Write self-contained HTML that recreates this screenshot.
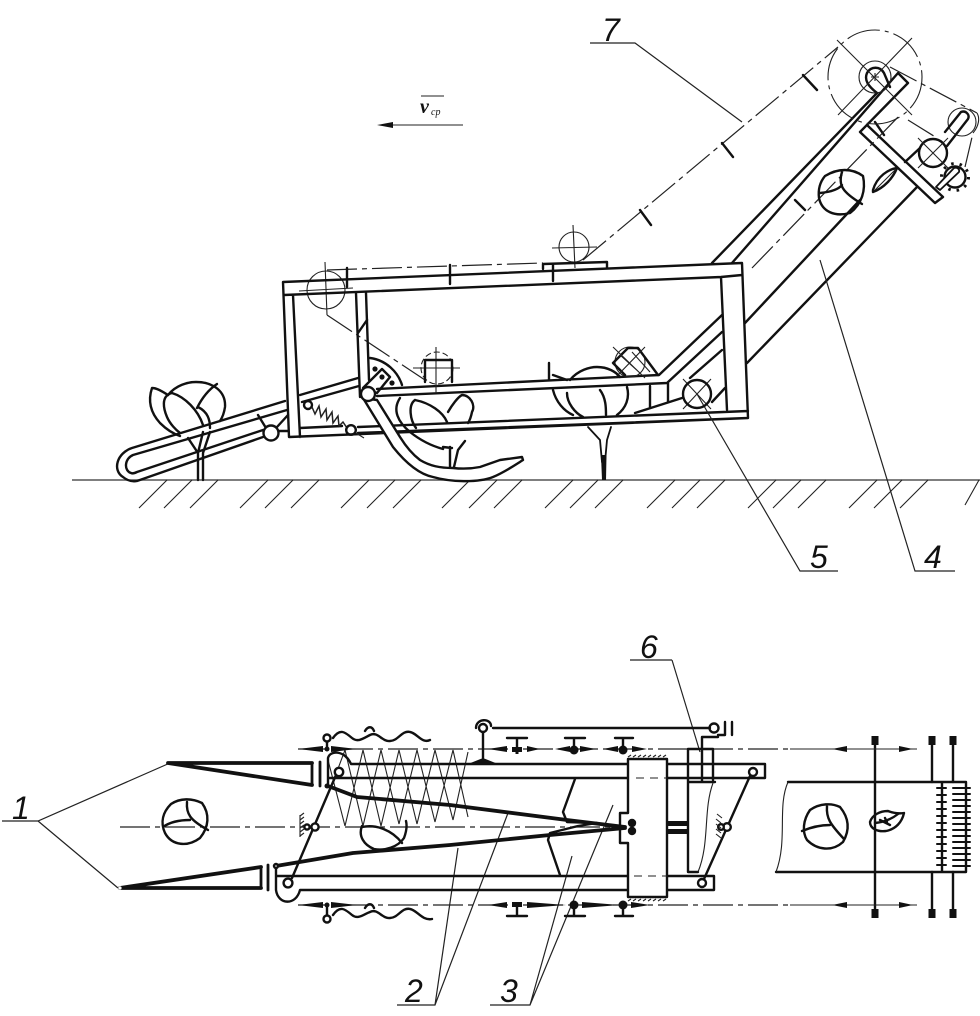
<!DOCTYPE html>
<html><head><meta charset="utf-8"><style>
html,body{margin:0;padding:0;background:#fff}
svg{display:block}
.m{fill:none;stroke:#111;stroke-width:2.4;stroke-linecap:round;stroke-linejoin:round}
.w{fill:#fff;stroke:#111;stroke-width:2.4;stroke-linejoin:round}
.t{fill:none;stroke:#222;stroke-width:1.1}
.h{fill:none;stroke:#111;stroke-width:3.8;stroke-linecap:round;stroke-linejoin:round}
.d{fill:none;stroke:#222;stroke-width:1.2;stroke-dasharray:30 5 5 5}
.g{fill:none;stroke:#222;stroke-width:1.1}
.n{font-family:"Liberation Sans",sans-serif;font-style:italic;font-size:32px;fill:#111}
</style></head><body>
<svg width="980" height="1016" viewBox="0 0 980 1016" xmlns="http://www.w3.org/2000/svg">
<rect width="980" height="1016" fill="#fff"/>

<!-- velocity -->
<text x="420" y="113" font-family="Liberation Serif,serif" font-style="italic" font-weight="bold" font-size="20" fill="#111">v</text>
<text x="431" y="115" font-family="Liberation Serif,serif" font-style="italic" font-size="10" fill="#111">ср</text>
<path class="t" d="M421 96H444"/>
<path class="t" d="M390 125H463"/><path d="M377 125L393 122V128Z" fill="#111"/>

<!-- ground -->
<path d="M72 480H980" stroke="#555" stroke-width="1.4" fill="none"/>
<path class="g" d="M167 480L139 508M192 480L164 508M218 480L190 508M268 480L240 508M293 480L265 508M319 480L291 508M369 480L341 508M395 480L367 508M421 480L393 508M470 480L442 508M497 480L469 508M522 480L494 508M573 480L545 508M598 480L570 508M623 480L595 508M675 480L647 508M700 480L672 508M725 480L697 508M776 480L748 508M801 480L773 508M826 480L798 508M877 480L849 508M902 480L874 508M928 480L900 508M979 480L965 505"/>

<!-- left cabbage -->
<path class="m" d="M168 395C160 390 156 388 152 388C148 400 150 412 160 423C168 431 174 434 180 436"/>
<path class="m" d="M168 395C176 385 188 382 196 382C214 382 226 392 225 407C224 414 222 418 220 421"/>
<path class="m" d="M172 393C160 396 164 410 167 417C170 424 176 430 180 433"/>
<path class="m" d="M172 393C185 397 198 410 203 425"/>
<path class="m" d="M197 408C202 398 208 390 217 384M198 407C208 412 210 420 210 428"/>
<path class="m" d="M188 438L198 453V480M203 480V453L210 432M203 432L198 453"/>
<!-- lifter -->
<path class="m" d="M285 401L132 448C117 453 112 470 123 477C128 481 132 482 137 481L263 437"/>
<path class="m" d="M287 410L133 455C124 459 124 471 131 473C133 474 135 473 137 472L263 430"/>
<path class="m" d="M300 395L358 378M302 402L359 386M258 415L266 428M277 427L288 415M278 431H288"/>
<circle cx="271" cy="433" r="7.5" class="w"/>

<!-- upper-left pulley -->
<circle cx="326" cy="290" r="19" class="t" stroke-width="1.2"/>
<path class="t" d="M325 262L327 315M299 291L353 288"/>
<path class="d" d="M327 270L543 263M327 315L425 380"/>
<path class="m" d="M347 268V287M450 265V284M553 265V281M358 333L367 320"/>

<!-- middle cabbage (below frame) -->
<path class="m" d="M400 398C392 410 398 422 410 432C420 440 432 446 443 449M415 400C408 405 410 420 416 428M415 400C430 403 443 412 447 422M448 412C452 405 458 397 462 395C470 395 476 405 472 412C471 417 470 420 468 423M450 467V447M454 467L458 450L465 441M452 448L443 447"/>

<!-- frame -->
<path class="m" d="M283 282L742 263L748 418L289 437L283 282ZM284 295L721 277L742 275M293 295L300 437M721 277L727 410M300 428L342 426M358 427L748 411M358 433L748 418"/>
<path class="m" d="M356 293L360 397M366 293L369 380"/>

<!-- belt top pulley -->
<circle cx="574" cy="247" r="15" class="t"/><path class="t" d="M552 248L597 247M573 225L575 268"/>
<path class="m" d="M543 269V264L607 262V268"/>
<path class="d" d="M583 260L838 47"/>
<path class="m" d="M722 143L733 157M640 210L651 225M803 75L817 90"/>

<path class="m" d="M377 389L659 375L722 315M377 396L667 383L722 332M690 378L722 350"/>
<path class="m" d="M668 383V402M650 386V408M635 413L682 398M712 402L725 388"/>
<!-- square roller -->
<circle cx="437" cy="368" r="16" class="t" stroke-dasharray="6 3"/>
<path class="t" d="M436 347V393M413 368H460"/>
<path class="m" d="M425 382V360H452V382"/>
<circle cx="630" cy="362" r="15" class="t"/>
<path class="m" d="M625 375L613 363L628 348L638 348L658 375"/>
<path class="t" d="M613 347L645 378M645 347L615 378M620 355L640 373M632 352L650 372"/>
<!-- third cabbage -->
<path class="m" d="M570 380C578 370 590 367 597 367C608 367 616 372 620 377M553 375L567 380M549 363V380M553 390C556 402 564 411 573 415M567 393C567 403 575 413 583 417M600 390C606 398 606 408 606 415M627 387C630 398 626 408 617 415"/>
<path class="m" style="stroke-width:1.8" d="M588 427L600 440L602 462M611 427L607 440L605 462"/>
<path d="M601 455H606.500L606 480H602Z" fill="#111"/>

<!-- sector -->
<path class="m" d="M370 358C386 360 398 372 402 385"/>
<circle cx="375" cy="369" r="2.6" fill="#111"/><circle cx="382" cy="377" r="2.6" fill="#111"/><circle cx="392" cy="383" r="2.6" fill="#111"/>
<path class="m" d="M363 388L382 369L390 377L377 393Z"/>
<!-- plough -->
<path class="w" d="M363 398L393 447C405 462 418 474 433 477C450 482 478 483 493 477C505 472 515 465 523 460L522 457L500 460L480 467C470 469 462 469 453 468C440 468 430 466 420 460C412 454 405 445 400 437L377 400Z"/>
<circle cx="368" cy="394" r="7" class="w"/>
<!-- spring -->
<circle cx="308" cy="405" r="4" class="m"/>
<path class="t" style="stroke-width:1.5" d="M312 407L315 414L319 406L321 417L326 409L327 420L332 412L333 423L338 416L339 426L343 422L347 428"/>
<circle cx="351" cy="430" r="4.8" class="m"/>
<path class="t" d="M356 433L364 438"/>

<!-- inclined conveyor -->
<path class="m" d="M712 263L877 93M732 263L898 73L908 83L860 132L935 203L943 197L867 125M875 122L884 135M745 323L860 200M747 363L917 187M795 200L805 210"/>
<path class="m" d="M877 93C868 86 864 80 867 73C871 66 880 66 884 73L890 87"/>
<path class="t" d="M875 73V81M871 77H879"/>
<circle cx="875" cy="77" r="16" class="t"/>
<circle cx="875" cy="77" r="47" class="t" stroke-dasharray="34 5 4 5"/>
<path class="t" d="M837 40L912 115M912 38L838 115"/>
<path class="d" d="M752 268L900 115M890 67L977 113M908 120L937 138M965 167L973 133"/>
<path class="t" d="M977 113C980 118 979 126 973 133"/>
<circle cx="962" cy="122" r="14" class="t"/>
<path class="m" d="M905 162L920 148M945 132L961 112C966 110 970 115 968 119L947 146"/>
<circle cx="933" cy="153" r="14" class="m"/>
<path class="t" d="M918 138L948 168M948 138L918 168"/>
<circle cx="955" cy="177" r="13.500" fill="none" stroke="#111" stroke-width="3" stroke-dasharray="2.500 6"/>
<circle cx="955" cy="177" r="10.500" class="m"/>
<path class="m" style="fill:#fff;stroke-width:1.8" d="M959 172L940 190L936 187L954 168C957 167 960 169 959 172Z"/>
<!-- conveyor cabbage -->
<path class="m" d="M825 176C838 168 852 168 863 176C866 190 862 204 850 213C835 217 822 212 819 198C818 190 820 182 825 176ZM842 172C838 185 842 192 862 204M820 193C830 192 838 190 842 185"/>
<path class="m" d="M873 190C877 176 889 169 897 168C893 178 884 188 873 192Z"/>
<path class="t" d="M875 190L896 169"/>

<!-- leaders -->
<path class="t" style="stroke-width:1.2" d="M590 43H635L742 122M697 394L800 571H838M820 260L915 571H955M672 660H630M672 660L700 752M2 821H38L170 763M38 821L118 888M397 1005H435L508 813M435 1005L458 848M490 1005H530L613 805M530 1005L572 856"/>
<path class="t" d="M683 379L711 409M711 379L683 409"/>
<circle cx="697" cy="394" r="14" class="m"/>

<text class="n" x="602" y="41">7</text>
<text class="n" x="810" y="568">5</text>
<text class="n" x="924" y="568">4</text>
<text class="n" x="640" y="658">6</text>
<text class="n" x="12" y="819">1</text>
<text class="n" x="405" y="1002">2</text>
<text class="n" x="500" y="1002">3</text>

<!-- PLAN VIEW -->
<path class="d" d="M120 827H640M298 749H790M298 905H790"/>
<!-- net -->
<path class="t" d="M330 790L345 750L363 826L381 750L399 824L417 750L435 822L453 750L468 817M345 826L363 750L381 826L399 750L417 824L435 750L453 820L468 752M328 760L345 826"/>
<!-- wedges -->
<path class="h" d="M168 763H312M168 763L312 785M120 888L261 867M120 888H261"/>
<path class="m" style="stroke-width:2.8" d="M312 764V785M261 867V888M320 762V786M268 865V890"/>
<circle cx="120" cy="888" r="1.600" fill="#fff"/>
<!-- rails -->
<path class="m" d="M328 787V758C330 750 345 750 351 764H765V778H328M276 866V890C278 905 296 906 300 890H714V876H277"/>
<!-- blades -->
<path class="m" d="M575 779L563 812L567 822L597 823L578 826L550 833L548 840L560 875"/>
<!-- frame block -->
<path class="w" d="M628 759H667V897H628V843H620V813H628Z"/>
<path class="h" d="M328 786L357 797L450 805L567 820L625 827M276 866L353 853L450 845L550 835L625 828"/>
<circle cx="632" cy="823" r="4.200" fill="#111"/><circle cx="632" cy="831" r="4.200" fill="#111"/>
<path class="t" stroke-dasharray="8 6" d="M636 778H667M634 876H667"/>
<path class="t" d="M628 757L631 755M633 757L636 755M638 757L641 755M643 757L646 755M648 757L651 755M653 757L656 755M658 757L661 755M663 757L666 755M628 901L631 899M633 901L636 899M638 901L641 899M643 901L646 899M648 901L651 899M653 901L656 899M658 901L661 899M663 901L666 899"/>
<path d="M667 821H688V826H667ZM667 829H688V834H667Z" fill="#111"/>
<!-- link left -->
<path class="m" d="M336 775L292 878"/>
<circle cx="339" cy="772" r="4.2" class="w"/><circle cx="288" cy="883" r="4.4" class="w"/>
<circle cx="327" cy="786" r="2.5" fill="#111"/><circle cx="276" cy="866" r="2" class="w"/>
<circle cx="315" cy="827" r="3.6" class="w"/><circle cx="307" cy="827" r="2.6" class="w"/>
<path class="t" d="M300 815V837M300 816L304 813M300 820L304 817M300 824L304 821M300 828L304 825M300 832L304 829M300 836L304 833"/>
<!-- plan cabbages -->
<path class="m" d="M171 804C180 798 192 798 202 803C210 814 209 827 200 838C188 847 172 846 165 833C160 822 163 812 171 804ZM187 802C186 814 190 820 208 830M163 827C170 822 180 820 190 820"/>
<path class="m" d="M362 826C358 836 364 845 374 849C385 851 398 847 404 838C407 830 407 825 406 821M362 827C376 824 392 830 402 843"/>
<!-- waves -->
<path class="m" d="M333 738C340 728 345 732 352 738C358 743 364 738 370 735C378 731 382 742 390 741C398 741 402 730 410 732C417 733 422 744 430 740"/>
<path class="m" d="M333 915C340 905 345 909 352 915C358 920 364 914 370 912C378 908 382 919 390 918C398 918 402 907 410 909C417 910 422 921 432 919"/>
<path class="m" d="M365 731C368 726 372 726 374 731M365 908C368 903 372 903 374 908"/>
<circle cx="327" cy="738" r="3.5" class="m"/><circle cx="327" cy="919" r="3.5" class="m"/>
<path class="m" d="M327 742V749M327 906V915"/>
<path d="M298 749L323 746V752ZM357 749L331 746V752ZM298 905L323 902V908ZM357 905L331 902V908Z" fill="#111"/>
<circle cx="327" cy="749" r="2.500" fill="#111"/><circle cx="327" cy="905" r="2.500" fill="#111"/>
<!-- top linkage -->
<circle cx="483" cy="728" r="4" class="m"/>
<path class="m" d="M476 728C476 718 491 718 491 726M483 732V758M493 728H710"/>
<path d="M468 764L483 758L498 764Z" fill="#111"/>
<circle cx="714" cy="728" r="4.5" class="m"/>
<path class="m" d="M725 722V735M732 722V735M718 735H725M702 737H718M702 737V782M688 749H713V780M688 749V782M688 782H715M688 782V872H698"/>
<path class="t" d="M713 783C703 810 710 843 698 872"/>
<circle cx="753" cy="772" r="4" class="w"/><circle cx="702" cy="883" r="4" class="w"/>
<path class="m" d="M750 776L704 879"/>
<circle cx="727" cy="827" r="3.8" class="w"/><circle cx="721" cy="827" r="2.8" class="w"/>
<path class="t" d="M717 814L722 818M716 819L721 823M716 824L721 828M716 829L721 833M716 834L721 838"/>
<!-- bearings -->
<g fill="#111">
<path d="M488 749L507 746V752ZM540 749L527 746V752ZM555 749L570 746V752ZM596 749L580 746V752ZM603 749L618 746V752ZM647 749L632 746V752Z"/>
<path d="M488 905L507 902V908ZM566 905L527 902V908ZM570 905L570 905ZM620 905L582 902V908ZM650 905L631 902V908Z"/>
<path d="M512 747H522V752H518.500V754H515.500V752H512Z"/>
<circle cx="574" cy="750" r="4.500"/><circle cx="623" cy="750" r="4.500"/>
<path d="M512 902H522V907H512Z"/>
<circle cx="574" cy="905" r="4.500"/><circle cx="623" cy="905" r="4.500"/>
</g>
<path class="m" d="M507 738H527M517 738V749M565 738H585M574 738V749M615 738H633M623 738V749M507 916H527M517 905V916M565 916H585M574 905V916M615 916H633M623 905V916"/>
<!-- right conveyor -->
<path class="m" d="M788 782H966V872H776M942 782V872"/>
<path class="t" d="M788 782C777 807 788 840 776 872"/>
<path class="m" d="M875 740V913M932 740V782M932 872V913M953 740V782M953 872V913"/>
<path d="M871.500 736H878.500V745H871.500ZM928.500 736H935.500V745H928.500ZM949.500 736H956.500V745H949.500ZM871.500 909H878.500V918H871.500ZM928.500 909H935.500V918H928.500ZM949.500 909H956.500V918H949.500Z" fill="#111"/>
<path class="t" d="M790 749H917M790 905H917"/>
<path d="M832 749L847 746V752ZM913 749L899 746V752ZM832 905L847 902V908ZM913 905L899 902V908Z" fill="#111"/>
<path class="m" style="stroke-width:2" d="M937 788H946M937 795H946M937 802H946M937 809H946M937 816H946M937 823H946M937 830H946M937 837H946M937 844H946M937 851H946M937 858H946M937 865H946M953 788H970M953 794H970M953 800H970M953 806H970M953 812H970M953 818H970M953 824H970M953 830H970M953 836H970M953 842H970M953 848H970M953 854H970M953 860H970M953 866H970"/>
<path class="m" d="M810 810C820 803 832 803 840 807C849 818 850 830 843 842C832 852 817 850 807 840C802 832 803 820 810 810ZM827 806C826 818 830 824 844 839M802 831C814 826 824 825 830 825"/>
<path class="m" d="M870 822C872 815 880 811 888 811C893 813 898 814 904 813C902 822 896 829 886 831C878 832 870 829 870 822ZM875 823C885 822 893 818 898 814M885 818L887 822M880 820L890 825"/>
</svg>
</body></html>
